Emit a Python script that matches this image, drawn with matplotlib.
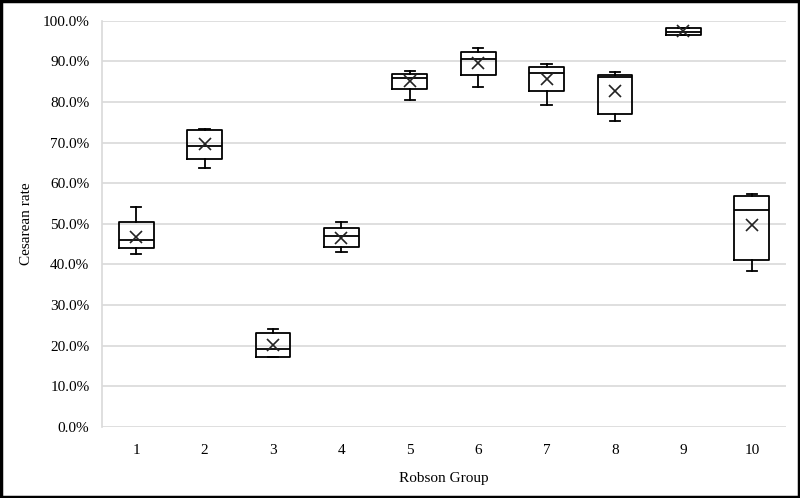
import matplotlib.pyplot as plt
from matplotlib.ticker import PercentFormatter

# Robson groups and box statistics (cesarean rate, %)
groups = ['1', '2', '3', '4', '5', '6', '7', '8', '9', '10']
whislo = [42.6, 63.7, 17.2, 43.0, 80.6, 83.8, 79.3, 75.4, 96.4, 38.5]
q1 = [44.0, 66.0, 17.2, 44.2, 83.1, 86.7, 82.8, 77.0, 96.6, 41.1]
med = [46.0, 69.2, 19.1, 47.0, 85.9, 90.6, 87.1, 86.1, 97.1, 53.4]
q3 = [50.5, 73.2, 23.1, 48.9, 87.0, 92.2, 88.7, 86.7, 98.1, 56.9]
whishi = [54.1, 73.4, 24.2, 50.5, 87.7, 93.2, 89.3, 87.4, 98.3, 57.3]
means = [46.8, 69.7, 20.1, 46.6, 85.2, 89.7, 85.6, 82.8, 97.5, 49.7]

plt.rcParams['font.family'] = ['Liberation Serif', 'DejaVu Serif']

stats = []
for i, g in enumerate(groups):
    stats.append({'label': g, 'whislo': whislo[i], 'q1': q1[i], 'med': med[i],
                  'q3': q3[i], 'whishi': whishi[i], 'mean': means[i], 'fliers': []})

fig = plt.figure(figsize=(8, 4.98), dpi=100)
ax = fig.add_axes([0.1275, 0.1426, 0.855, 0.8158])

lw = 1.3
ax.bxp(stats, positions=range(1, 11), widths=0.51, showmeans=True,
       boxprops=dict(color='black', linewidth=lw),
       whiskerprops=dict(color='black', linewidth=lw),
       capprops=dict(color='black', linewidth=lw),
       medianprops=dict(color='black', linewidth=lw),
       meanprops=dict(marker='x', markeredgecolor='#222222', markersize=9,
                      markeredgewidth=1.2),
       capwidths=0.15, zorder=3)

ax.set_xlim(0.5, 10.5)
ax.set_ylim(0, 100)
ax.set_yticks(range(0, 101, 10))
ax.yaxis.set_major_formatter(PercentFormatter(decimals=1))
ax.grid(axis='y', color='#d9d9d9', linewidth=1.2)
ax.set_axisbelow(True)
for s in ['top', 'right', 'bottom']:
    ax.spines[s].set_visible(False)
ax.spines['left'].set_color('#d9d9d9')
ax.spines['left'].set_linewidth(1.2)
ax.tick_params(length=0, labelsize=11, pad=12)
ax.tick_params(axis='y', pad=9)
ax.set_xlabel('Robson Group', fontsize=11, labelpad=11)
ax.set_ylabel('Cesarean rate', fontsize=11, labelpad=7)

fig.patches.append(plt.Rectangle((0.001, 0.002), 0.998, 0.996, transform=fig.transFigure,
                                 fill=False, edgecolor='black', linewidth=2.5))

fig.savefig('out.png', dpi=100)
